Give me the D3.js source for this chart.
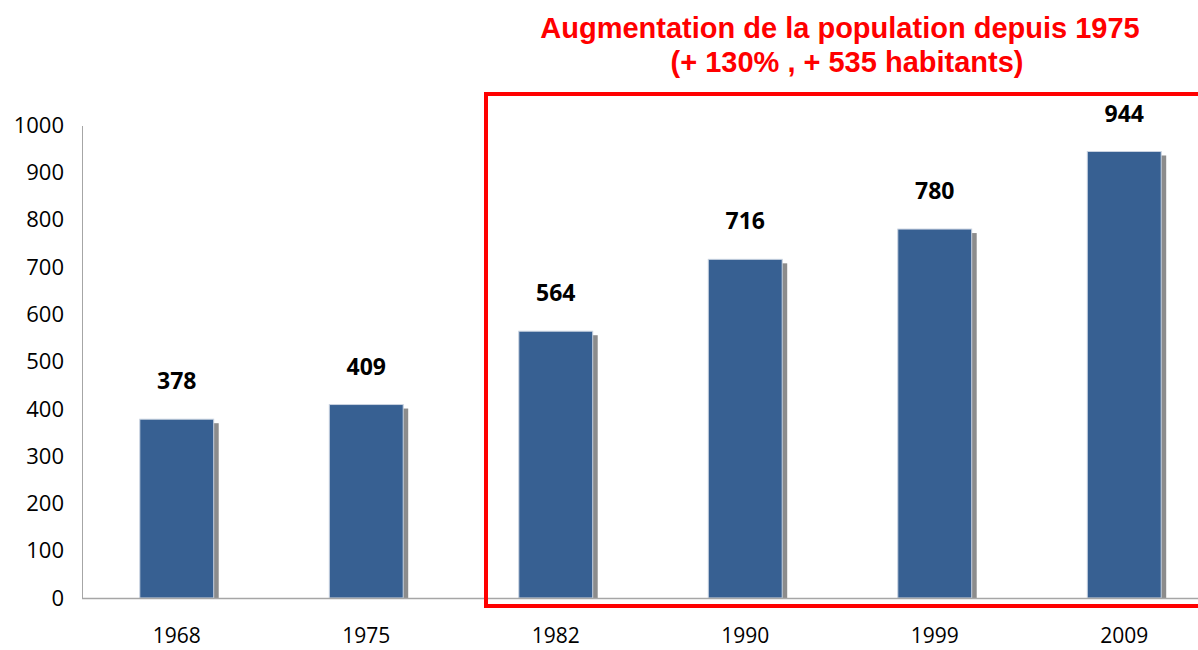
<!DOCTYPE html>
<html>
<head>
<meta charset="utf-8">
<script src="https://cdn.jsdelivr.net/npm/d3@7"></script>
<style>
  body { margin: 0; background: #fff; }
</style>
</head>
<body>
<script>
// données
var annees = ["1968", "1975", "1982", "1990", "1999", "2009"];
var habitants = [378, 409, 564, 716, 780, 944];
var graduations = [0, 100, 200, 300, 400, 500, 600, 700, 800, 900, 1000];
var titre = ["Augmentation de la population depuis 1975", "(+ 130% , + 535 habitants)"];

var largeur = 1198, hauteur = 650;

var svg = d3.select("body").append("svg")
    .attr("width", largeur)
    .attr("height", hauteur);

// échelles
var x = d3.scaleBand()
    .domain(annees)
    .range([82, 1219])
    .paddingInner(0.61)
    .paddingOuter(0.305);

var y = d3.scaleLinear()
    .domain([0, 1000])
    .range([598, 125]);

// axe vertical
svg.append("line")
    .attr("x1", 82.5).attr("x2", 82.5)
    .attr("y1", 126).attr("y2", 598)
    .style("stroke", "#a6a6a6")
    .style("stroke-width", 1);

svg.selectAll(".tick-y")
    .data(graduations)
    .enter().append("text")
    .attr("class", "tick-y")
    .attr("x", 64)
    .attr("y", function(d) { return y(d); })
    .attr("dy", "0.35em")
    .attr("text-anchor", "end")
    .style("font-family", "Open Sans, sans-serif")
    .style("font-size", "22px")
    .text(function(d) { return d; });

// ombres des barres
svg.selectAll(".ombre")
    .data(habitants)
    .enter().append("rect")
    .attr("class", "ombre")
    .attr("x", function(d, i) { return x(annees[i]) + 5; })
    .attr("y", function(d) { return y(d) + 4; })
    .attr("width", x.bandwidth())
    .attr("height", function(d) { return y(0) - y(d) - 4; })
    .style("fill", "#8c8c8c");

// barres
svg.selectAll(".barre")
    .data(habitants)
    .enter().append("rect")
    .attr("class", "barre")
    .attr("x", function(d, i) { return x(annees[i]); })
    .attr("y", function(d) { return y(d); })
    .attr("width", x.bandwidth())
    .attr("height", function(d) { return y(0) - y(d); })
    .style("fill", "#376092")
    .style("stroke", "#c9d3e0")
    .style("stroke-width", 1);

// axe horizontal
svg.append("line")
    .attr("x1", 82).attr("x2", largeur)
    .attr("y1", 598.5).attr("y2", 598.5)
    .style("stroke", "#a6a6a6")
    .style("stroke-width", 1.5);

svg.selectAll(".tick-x")
    .data(annees)
    .enter().append("text")
    .attr("class", "tick-x")
    .attr("x", function(d) { return x(d) + x.bandwidth() / 2; })
    .attr("y", 636)
    .attr("dy", "0.35em")
    .attr("text-anchor", "middle")
    .style("font-family", "Open Sans, sans-serif")
    .style("font-size", "21px")
    .text(function(d) { return d; });

// étiquettes de valeurs
svg.selectAll(".valeur")
    .data(habitants)
    .enter().append("text")
    .attr("class", "valeur")
    .attr("x", function(d, i) { return x(annees[i]) + x.bandwidth() / 2; })
    .attr("y", function(d) { return y(d) - 38; })
    .attr("dy", "0.35em")
    .attr("text-anchor", "middle")
    .style("font-family", "Open Sans, sans-serif")
    .style("font-weight", "bold")
    .style("font-size", "23px")
    .text(function(d) { return d; });

// cadre rouge
svg.append("rect")
    .attr("x", 486)
    .attr("y", 94)
    .attr("width", 760)
    .attr("height", 512)
    .style("fill", "none")
    .style("stroke", "#ff0000")
    .style("stroke-width", 4);

// titre
svg.selectAll(".titre")
    .data(titre)
    .enter().append("text")
    .attr("class", "titre")
    .attr("x", function(d, i) { return i === 0 ? 840 : 847; })
    .attr("y", function(d, i) { return 28 + i * 34; })
    .attr("dy", "0.35em")
    .attr("text-anchor", "middle")
    .style("font-family", "Liberation Sans, Arial, sans-serif")
    .style("font-weight", "bold")
    .style("font-size", "29px")
    .style("fill", "#ff0000")
    .text(function(d) { return d; });
</script>
</body>
</html>
